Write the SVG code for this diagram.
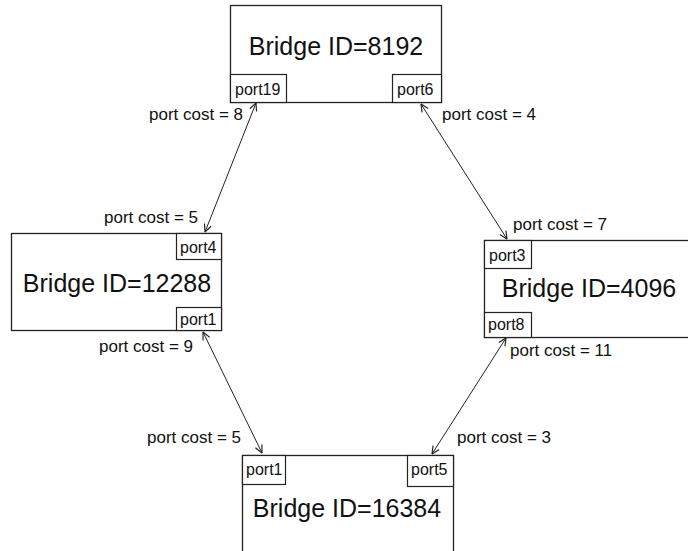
<svg xmlns="http://www.w3.org/2000/svg" width="688" height="551" viewBox="0 0 688 551">
<defs>
<marker id="arr" viewBox="0 0 10 10" refX="9.5" refY="5" markerWidth="9" markerHeight="9" markerUnits="userSpaceOnUse" orient="auto-start-reverse">
<path d="M1,1 L9.5,5 L1,9" fill="none" stroke="#222" stroke-width="1.3"/>
</marker>
<style>
.box{fill:#fff;stroke:#222;stroke-width:1.3}
.port{fill:#fff;stroke:#222;stroke-width:1.2}
.title{font-family:"Liberation Sans",Arial,sans-serif;font-size:25px;fill:#111;text-anchor:middle}
.pl{font-family:"Liberation Sans",Arial,sans-serif;font-size:16px;fill:#111}
.cost{font-family:"Liberation Sans",Arial,sans-serif;font-size:17px;fill:#111}
.end{text-anchor:end}
.conn{stroke:#222;stroke-width:1;fill:none;marker-start:url(#arr);marker-end:url(#arr)}
</style>
</defs>
<rect width="688" height="551" fill="#fff"/>

<g id="bridge8192">
<rect class="box" x="230.5" y="5.5" width="211" height="97"/>
<text class="title" x="336" y="55">Bridge ID=8192</text>
<rect class="port" x="230.5" y="74.5" width="56" height="28"/>
<text class="pl" x="235" y="95">port19</text>
<rect class="port" x="392.5" y="74.5" width="49" height="28"/>
<text class="pl" x="397" y="95">port6</text>
</g>

<g id="bridge12288">
<rect class="box" x="11.5" y="233.5" width="210" height="97"/>
<text class="title" x="117" y="292">Bridge ID=12288</text>
<rect class="port" x="176.5" y="233.5" width="45" height="26"/>
<text class="pl" x="180" y="253">port4</text>
<rect class="port" x="176.5" y="307.5" width="45" height="23"/>
<text class="pl" x="180" y="325">port1</text>
</g>

<g id="bridge4096">
<rect class="box" x="484.5" y="240.5" width="220" height="97"/>
<text class="title" x="589" y="297">Bridge ID=4096</text>
<rect class="port" x="484.5" y="240.5" width="47" height="28"/>
<text class="pl" x="489" y="261">port3</text>
<rect class="port" x="484.5" y="312.5" width="47" height="25"/>
<text class="pl" x="488" y="330">port8</text>
</g>

<g id="bridge16384">
<rect class="box" x="242.5" y="455.5" width="211" height="110"/>
<text class="title" x="347" y="517">Bridge ID=16384</text>
<rect class="port" x="242.5" y="455.5" width="43" height="29"/>
<text class="pl" x="246" y="475">port1</text>
<rect class="port" x="407.5" y="455.5" width="46" height="31"/>
<text class="pl" x="411" y="475">port5</text>
</g>

<g id="connectors">
<line class="conn" x1="256" y1="103" x2="205" y2="232"/>
<line class="conn" x1="421" y1="104" x2="507" y2="239"/>
<line class="conn" x1="203" y1="332" x2="262" y2="453"/>
<line class="conn" x1="506" y1="338" x2="432" y2="454"/>
</g>

<g id="labels">
<text class="cost end" x="243" y="120">port cost = 8</text>
<text class="cost" x="442" y="120">port cost = 4</text>
<text class="cost end" x="198" y="223">port cost = 5</text>
<text class="cost" x="513" y="230">port cost = 7</text>
<text class="cost end" x="193" y="352">port cost = 9</text>
<text class="cost" x="510" y="356">port cost = 11</text>
<text class="cost end" x="241" y="443">port cost = 5</text>
<text class="cost" x="457" y="443">port cost = 3</text>
</g>
</svg>
